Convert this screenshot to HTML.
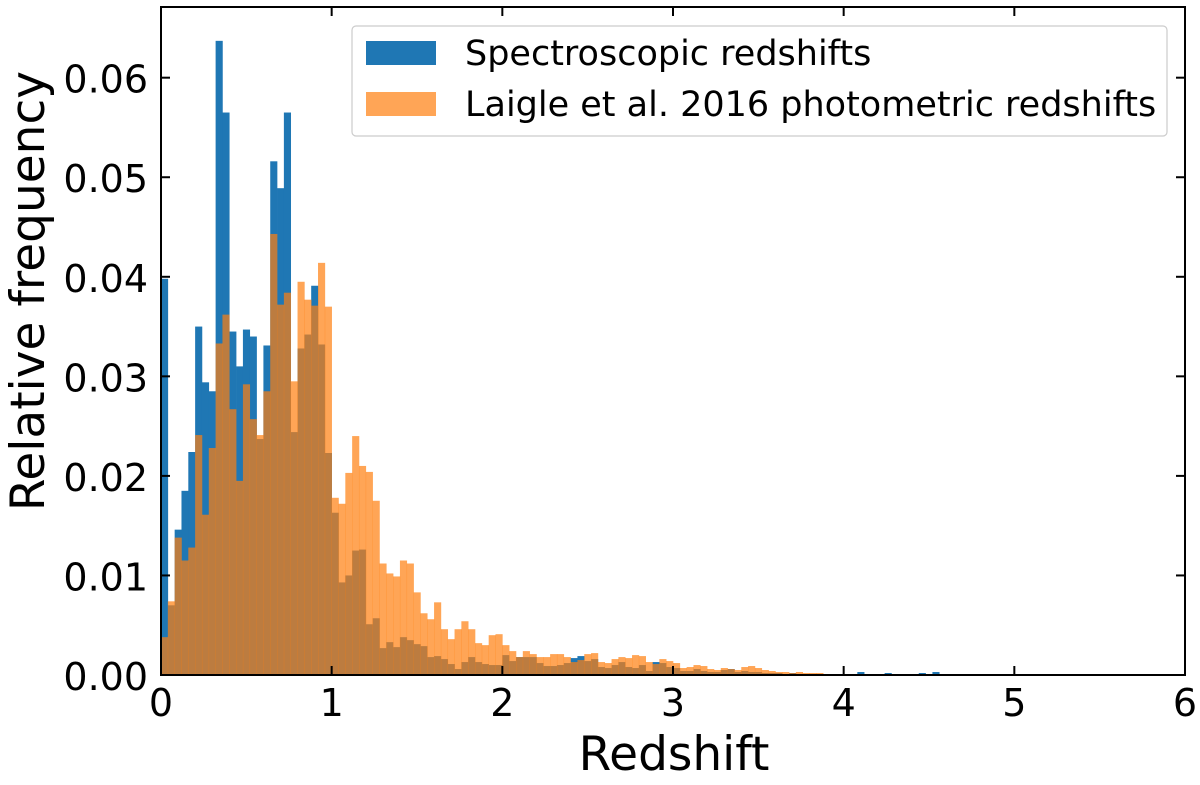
<!DOCTYPE html>
<html><head><meta charset="utf-8"><style>
body{margin:0;background:#fff;}
svg text{font-family:"DejaVu Sans","Liberation Sans",sans-serif;fill:#000;}
</style></head><body>
<svg id="chart" width="1200" height="780" viewBox="0 0 1200 780" xmlns="http://www.w3.org/2000/svg">
<g id="bars"></g>
<g id="axes"></g>
<g id="legend">
<rect x="352" y="26" width="815" height="110" rx="4" fill="#fff" fill-opacity="0.8" stroke="#ccc" stroke-width="1.2"/>
<rect x="366" y="41" width="70" height="24" fill="#1f77b4"/>
<text x="465" y="65" font-size="35">Spectroscopic redshifts</text>
<rect x="366" y="92" width="70" height="24" fill="#ff7f0e" fill-opacity="0.7"/>
<text x="465" y="116" font-size="35">Laigle et al. 2016 photometric redshifts</text>
</g>
</svg>
<script>
const binWidth = 0.04;
const specValues = [0.0398,0.007,0.0146,0.0185,0.0224,0.035,0.0294,0.0285,0.0637,0.0565,0.0345,0.031,0.0347,0.034,0.0237,0.0331,0.0516,0.0489,0.0565,0.0244,0.0328,0.0342,0.0391,0.0332,0.0223,
0.0163,0.0093,0.01,0.0125,0.0126,0.0051,0.0057,0.0027,0.0033,0.0028,0.0038,0.0035,0.0031,0.0029,0.0018,0.0019,0.0016,0.0011,0.0006,0.0013,0.0018,0.0013,0.0011,0.001,0.001,
0.002,0.0014,0.0018,0.0018,0.0018,0.0012,0.0009,0.0009,0.001,0.0012,0.0017,0.0019,0.0014,0.0016,0.0008,0.0007,0.001,0.0013,0.0008,0.0007,0.001,0.0004,0.0013,0.0012,0.0008,
0.0007,0.0004,0.0004,0.0006,0.0004,0.0003,0.0003,0.0005,0.0006,0.0003,0.0004,0.0003,0.0003,0.0002,0.0002,0.0002,0.0001,0.0002,0.0001,0.0001,0.0001,0.0001,0.0001,0.0001,0.0001,
0.0001,0.0001,0.0003,0.0001,0.0001,0.0001,0.0002,0.0001,0,0.0001,0,0.0002,0,0.0003,0.0001];
const photValues = [0.0038,0.0074,0.0138,0.0115,0.0128,0.0241,0.0161,0.0228,0.0333,0.0362,0.0267,0.0195,0.0292,0.0257,0.0241,0.0285,0.0443,0.0372,0.0384,0.0295,0.0395,0.0377,0.0371,0.0414,0.037,
0.0178,0.0172,0.0203,0.024,0.021,0.0204,0.0175,0.0112,0.0102,0.0099,0.0115,0.0112,0.0083,0.0062,0.0056,0.0073,0.0046,0.0036,0.0046,0.0054,0.0046,0.0032,0.003,0.004,0.0041,
0.003,0.0024,0.0018,0.0024,0.0021,0.0018,0.0018,0.0021,0.0021,0.0018,0.0013,0.0015,0.0021,0.0022,0.0013,0.0012,0.0016,0.0018,0.0017,0.002,0.0019,0.0013,0.0011,0.0016,0.0014,
0.0012,0.0007,0.0008,0.001,0.0009,0.0006,0.0005,0.0007,0.0006,0.0005,0.0008,0.0009,0.0007,0.0005,0.0004,0.0003,0.0003,0.0002,0.0003,0.0002,0.0002,0.0002,0.0001,0.0001,0.0001,
0.0001,0.0001,0.0001,0.0001,0.0001];
const xTicks = [0,1,2,3,4,5,6];
const yTicks = [0,0.01,0.02,0.03,0.04,0.05,0.06];
const yTickLabels = ["0.00","0.01","0.02","0.03","0.04","0.05","0.06"];

const L=161,R=1185,T=7,B=675,XMAX=6,YMAX=0.0671;
const sx=v=>L+(v/XMAX)*(R-L);
const sy=v=>B-(v/YMAX)*(B-T);
const NS="http://www.w3.org/2000/svg";
function mk(tag,attrs,parent){const e=document.createElementNS(NS,tag);for(const k in attrs)e.setAttribute(k,attrs[k]);parent.appendChild(e);return e;}
const bars=document.getElementById('bars');
specValues.forEach((v,i)=>{
  const x0=sx(i*binWidth),x1=sx((i+1)*binWidth);
  const r=mk('rect',{x:x0,y:sy(v),width:x1-x0+0.3,height:B-sy(v),fill:'#1f77b4'},bars);
  
  
});
photValues.forEach((v,i)=>{
  const x0=sx(i*binWidth),x1=sx((i+1)*binWidth);
  const r=mk('rect',{x:x0,y:sy(v),width:x1-x0+0.3,height:B-sy(v),fill:'#ff7f0e','fill-opacity':0.7},bars);
  
  
});
const ax=document.getElementById('axes');
const frame=mk('rect',{x:L,y:T,width:R-L,height:B-T,fill:'none',stroke:'#000','stroke-width':2},ax);


xTicks.forEach(t=>{
  const x=sx(t);
  mk('line',{x1:x,x2:x,y1:B,y2:B-9,stroke:'#000','stroke-width':2},ax);
  mk('line',{x1:x,x2:x,y1:T,y2:T+9,stroke:'#000','stroke-width':2},ax);
  const tx=mk('text',{x:x,y:716,'font-size':38,'text-anchor':'middle'},ax);
  tx.textContent=t;
  
  
});
yTicks.forEach((t,i)=>{
  const y=sy(t);
  mk('line',{x1:L,x2:L+9,y1:y,y2:y,stroke:'#000','stroke-width':2},ax);
  mk('line',{x1:R,x2:R-9,y1:y,y2:y,stroke:'#000','stroke-width':2},ax);
  const tx=mk('text',{x:148,y:y+15,'font-size':38,'text-anchor':'end'},ax);
  tx.textContent=yTickLabels[i];
  
  
});
const xl=mk('text',{x:674,y:770,'font-size':47,'text-anchor':'middle'},ax);
xl.textContent='Redshift';


const yl=mk('text',{x:0,y:0,'font-size':47,'text-anchor':'middle',transform:'translate(44,291) rotate(-90)'},ax);
yl.textContent='Relative frequency';


</script>
</body></html>
